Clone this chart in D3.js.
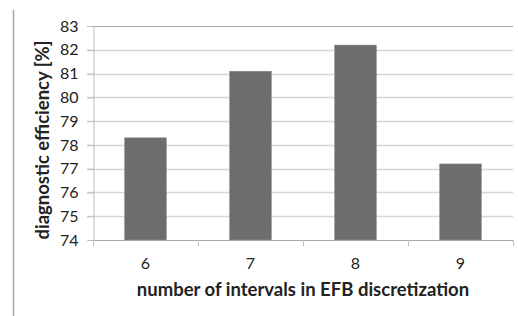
<!DOCTYPE html>
<html><head><meta charset="utf-8">
<script src="https://cdn.jsdelivr.net/npm/d3@7"></script>
<style>body{margin:0;background:#fff}svg{display:block}</style>
</head><body>
<script>
const categories = ["6", "7", "8", "9"];
const values = [78.3, 81.1, 82.2, 77.2];
const yTicks = [74, 75, 76, 77, 78, 79, 80, 81, 82, 83];
const yTitle = "diagnostic efficiency [%]";
const xTitle = "number of intervals in EFB discretization";

const W = 518, H = 316;
const m = {left: 93, right: 5, top: 26, bottom: 76};
const svg = d3.select("body").append("svg").attr("width", W).attr("height", H);
const font = "Lato, 'Open Sans', sans-serif";

// left frame line
svg.append("line").attr("x1", 13.5).attr("x2", 13.5).attr("y1", 10).attr("y2", H)
  .attr("stroke", "#a6a6a6").attr("stroke-width", 1.5);

const x = d3.scaleBand().domain(categories).range([m.left, W - m.right]).paddingInner(0.6).paddingOuter(0.3);
const y = d3.scaleLinear().domain([74, 83]).range([H - m.bottom, m.top]);

// gridlines
svg.append("g").selectAll("line").data(yTicks.filter(t => t !== 74)).join("line")
  .attr("x1", m.left - 6).attr("x2", W - m.right)
  .attr("y1", d => Math.round(y(d)) + 0.5).attr("y2", d => Math.round(y(d)) + 0.5)
  .attr("stroke", d => d === 83 ? "#a8a8a8" : "#d6d6d6").attr("stroke-width", d => d === 83 ? 1 : 1.5);

// y axis
const yAxis = svg.append("g").attr("transform", `translate(${m.left + 0.5},0)`)
  .call(d3.axisLeft(y).tickValues(yTicks).tickSize(6).tickFormat(d3.format("d")));
yAxis.select(".domain").attr("stroke", "#bdbdbd");
yAxis.selectAll(".tick line").attr("stroke", "#bdbdbd");
yAxis.selectAll("text").attr("font-family", font).attr("font-size", 16).attr("fill", "#222").attr("x", -15);

// bars
svg.append("g").selectAll("rect").data(values).join("rect")
  .attr("x", (d, i) => x(categories[i]))
  .attr("width", x.bandwidth())
  .attr("y", d => y(d))
  .attr("height", d => y(74) - y(d))
  .attr("fill", "#6d6d6d").attr("stroke", "#9a9a9a").attr("stroke-width", 0.5);

// x axis with ticks between categories
const bounds = d3.range(categories.length + 1).map(i => m.left + i * (W - m.right - m.left) / categories.length);
const xa = svg.append("g");
xa.append("line").attr("x1", m.left).attr("x2", W - m.right)
  .attr("y1", y(74) + 0.5).attr("y2", y(74) + 0.5).attr("stroke", "#a8a8a8");
xa.selectAll("line.t").data(bounds).join("line").attr("class", "t")
  .attr("x1", d => Math.round(d) + 0.5).attr("x2", d => Math.round(d) + 0.5)
  .attr("y1", y(74)).attr("y2", y(74) + 6).attr("stroke", "#bdbdbd");
xa.selectAll("text").data(categories).join("text")
  .attr("x", d => x(d) + x.bandwidth() / 2).attr("y", y(74) + 29)
  .attr("text-anchor", "middle").attr("font-family", font).attr("font-size", 16).attr("fill", "#222")
  .text(d => d);

// titles
svg.append("text").attr("x", 303).attr("y", 296)
  .attr("text-anchor", "middle").attr("font-family", font).attr("font-weight", "bold")
  .attr("font-size", 18.5).attr("fill", "#222").text(xTitle);
svg.append("text").attr("transform", `translate(49,140) rotate(-90)`)
  .attr("text-anchor", "middle").attr("font-family", font).attr("font-weight", "bold")
  .attr("font-size", 18.5).attr("fill", "#222").text(yTitle);
</script>
</body></html>
